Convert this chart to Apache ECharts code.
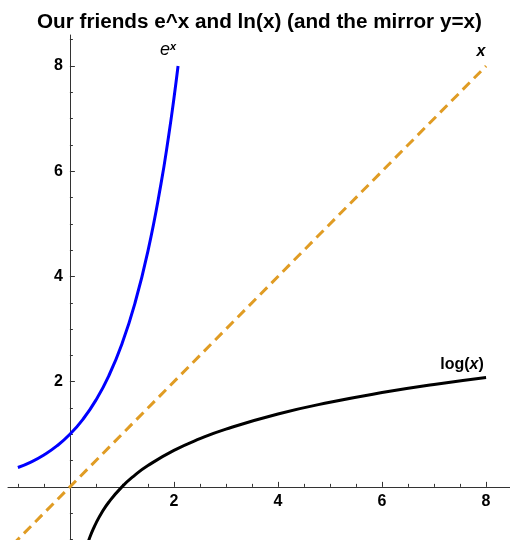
<!DOCTYPE html>
<html>
<head>
<meta charset="utf-8">
<style>
    html, body { margin: 0; padding: 0; background: #fff; }
    .main { width: 510px; height: 540px; }
</style>
<script src="https://cdn.jsdelivr.net/npm/echarts@6/dist/echarts.min.js"></script>
</head>
<body>
<div class="main"></div>
<script>
// 数据：e^x 曲线
var expX = [-1, -0.75, -0.5, -0.25, 0, 0.25, 0.5, 0.75, 1, 1.25, 1.5, 1.75, 1.9, 2, 2.079];
var expY = [0.368, 0.472, 0.607, 0.779, 1, 1.284, 1.649, 2.117, 2.718, 3.490, 4.482, 5.755, 6.686, 7.389, 8];
// 数据：ln(x) 曲线
var logX = [0.36, 0.4, 0.45, 0.5, 0.6, 0.75, 1, 1.25, 1.5, 2, 2.5, 3, 4, 5, 6, 7, 8];
var logY = [-1.022, -0.916, -0.799, -0.693, -0.511, -0.288, 0, 0.223, 0.405, 0.693, 0.916, 1.099, 1.386, 1.609, 1.792, 1.946, 2.079];
// 数据：镜像直线 y=x
var lineX = [-1.1, 8];
var lineY = [-1.1, 8];
// 刻度
var xTicks = [2, 4, 6, 8];
var yTicks = [2, 4, 6, 8];
var xMinor = [-1, -0.5, 0.5, 1, 1.5, 2.5, 3, 3.5, 4.5, 5, 5.5, 6.5, 7, 7.5];
var yMinor = [-1, -0.5, 0.5, 1, 1.5, 2.5, 3, 3.5, 4.5, 5, 5.5, 6.5, 7, 7.5, 8.5];

(function () {
    var font = '"Liberation Sans", Arial, sans-serif';
    var axisColor = '#333';

    // 坐标范围和绘图区
    var xMin = -1.19, xMax = 8.46, yMin = -1.01, yMax = 8.59;
    var gLeft = 8, gTop = 35, gW = 502, gH = 505;
    // 坐标轴穿过原点：用 offset 把轴从边上挪到 0 的位置
    var xOff = -(0 - yMin) / (yMax - yMin) * gH;
    var yOff = -(0 - xMin) / (xMax - xMin) * gW;

    // 把 x、y 数组拼成点，最后一个点带标签
    function pairs(xs, ys, label) {
        var pts = xs.map(function (x, i) { return [x, ys[i]]; });
        if (label) {
            pts[pts.length - 1] = { value: pts[pts.length - 1], label: label };
        }
        return pts;
    }

    // 主刻度轴
    function mainAxis(ticks, min, max, pos, off) {
        return {
            type: 'value',
            position: pos,
            offset: off,
            min: min,
            max: max,
            axisLine: { show: true, onZero: false, lineStyle: { color: axisColor, width: 1 } },
            axisTick: { show: true, inside: true, length: 5, customValues: ticks, lineStyle: { color: axisColor } },
            axisLabel: {
                customValues: ticks,
                color: '#000',
                fontFamily: font,
                fontWeight: 'bold',
                fontSize: 16,
                margin: 7
            },
            splitLine: { show: false }
        };
    }
    // 次刻度轴，只画短刻度
    function minorAxis(ticks, min, max, pos, off) {
        return {
            type: 'value',
            position: pos,
            offset: off,
            min: min,
            max: max,
            axisLine: { show: false, onZero: false },
            axisTick: { show: true, inside: true, length: 3, customValues: ticks, lineStyle: { color: axisColor } },
            axisLabel: { show: false },
            splitLine: { show: false }
        };
    }

    // 线条公用设置：点几乎看不见，只为挂标签
    function curve(name, color, dash, smooth, data) {
        return {
            name: name,
            type: 'line',
            smooth: smooth,
            symbol: 'circle',
            symbolSize: 0.1,
            showSymbol: true,
            itemStyle: { color: color },
            lineStyle: { color: color, width: 3, type: dash },
            data: data
        };
    }

    var option = {
        animation: false,
        title: {
            text: 'Our friends e^x and ln(x) (and the mirror y=x)',
            left: 32,
            top: 7,
            textStyle: { fontFamily: font, fontWeight: 'bold', fontSize: 20.7, color: '#000' }
        },
        grid: { left: gLeft, top: gTop, width: gW, height: gH, containLabel: false, outerBoundsMode: 'none' },
        xAxis: [mainAxis(xTicks, xMin, xMax, 'bottom', xOff), minorAxis(xMinor, xMin, xMax, 'bottom', xOff)],
        yAxis: [mainAxis(yTicks, yMin, yMax, 'left', yOff), minorAxis(yMinor, yMin, yMax, 'left', yOff)],
        series: [
            curve('y=x', '#e09c24', [10, 6], false, pairs(lineX, lineY, {
                show: true,
                position: 'top',
                distance: 6,
                offset: [-5, 0],
                formatter: 'x',
                fontFamily: font,
                fontWeight: 'bold',
                fontStyle: 'italic',
                fontSize: 16,
                color: '#000'
            })),
            curve('exp', '#0000ff', 'solid', true, pairs(expX, expY, {
                show: true,
                position: 'top',
                distance: 6,
                offset: [-10, 0],
                formatter: '{e|e}{s|x}',
                rich: {
                    e: { fontFamily: font, fontStyle: 'italic', fontSize: 18, color: '#000' },
                    s: { fontFamily: font, fontStyle: 'italic', fontWeight: 'bold', fontSize: 11, color: '#000', verticalAlign: 'top', padding: [0, 0, 8, 0] }
                }
            })),
            curve('log', '#000', 'solid', true, pairs(logX, logY, {
                show: true,
                position: 'top',
                distance: 5,
                offset: [-24, 0],
                formatter: '{b|log(}{i|x}{b|)}',
                rich: {
                    b: { fontFamily: font, fontWeight: 'bold', fontSize: 16, color: '#000' },
                    i: { fontFamily: font, fontWeight: 'bold', fontStyle: 'italic', fontSize: 16, color: '#000' }
                }
            }))
        ]
    };
    var myechart = echarts.init(document.querySelector('.main'));
    myechart.setOption(option);
})();
</script>
</body>
</html>
